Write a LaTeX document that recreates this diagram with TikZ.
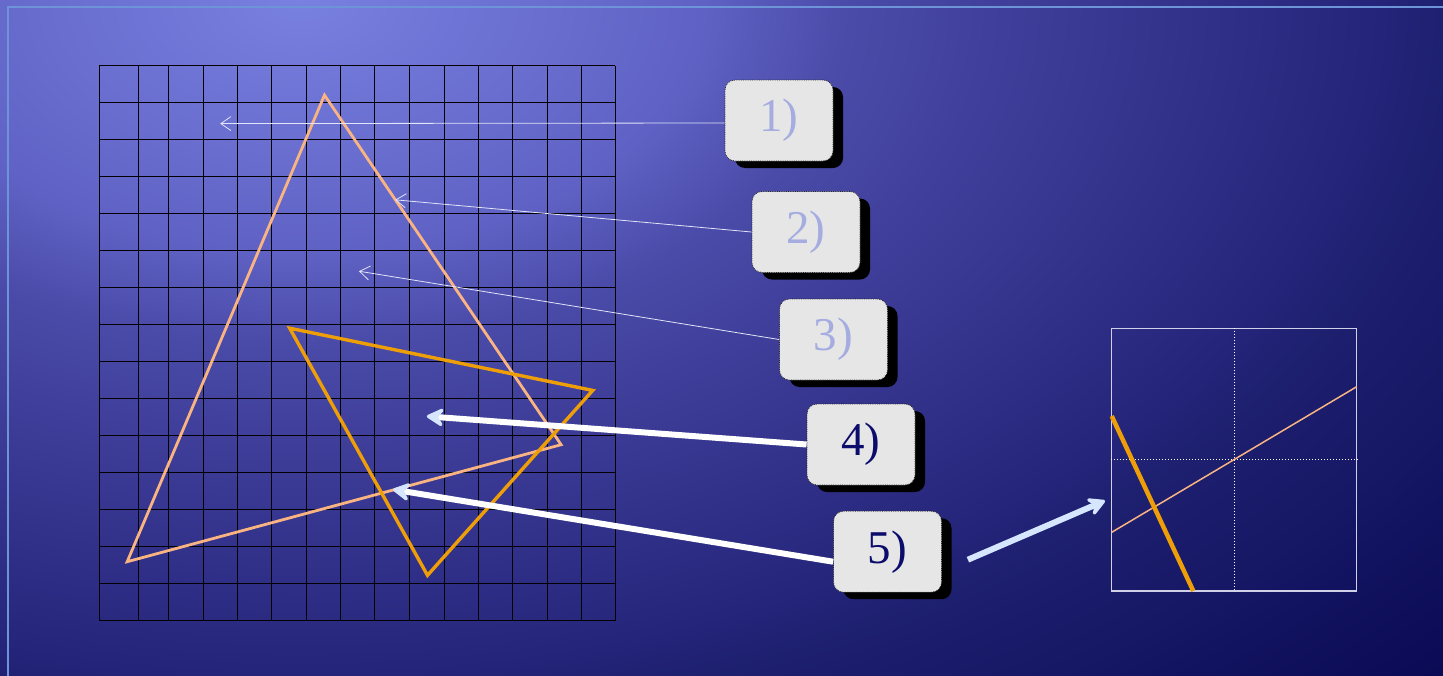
\documentclass[tikz,border=0pt]{standalone}
\usepackage{fontspec}
\setmainfont{Liberation Serif}
\usetikzlibrary{arrows.meta,shadows}
\definecolor{bgA}{HTML}{7880E0}
\definecolor{bgB}{HTML}{5F62C4}
\definecolor{bgC}{HTML}{4A4AA8}
\definecolor{bgD}{HTML}{24247A}
\definecolor{bgE}{HTML}{1E2070}
\definecolor{bgF}{HTML}{0A0A55}
\definecolor{framec}{HTML}{6E94D8}
\definecolor{peach}{HTML}{FAB482}
\definecolor{orng}{HTML}{EE9E06}
\definecolor{boxfill}{HTML}{E6E6E6}
\definecolor{lighttxt}{HTML}{A4ACE0}
\definecolor{darktxt}{HTML}{0C0C6C}
\definecolor{thinarr}{HTML}{E2E4F8}
\definecolor{headblue}{HTML}{D6E6FF}
\definecolor{panelc}{HTML}{D0D0E8}
\pgfdeclareradialshading{bgshade}{\pgfpoint{0bp}{0bp}}{color(0bp)=(bgA); color(6.3bp)=(bgB); color(8.6bp)=(bgC); color(16.9bp)=(bgD); color(17.85bp)=(bgE); color(24.5bp)=(bgF); color(25bp)=(bgF); color(50bp)=(bgF)}
\tikzset{
  numbox/.style={draw=black!85, line width=0.8pt, densely dotted, fill=boxfill,
    rounded corners=10pt, minimum width=108pt, minimum height=81pt, inner sep=0pt,
    font=\fontsize{47}{50}\selectfont,
    drop shadow={shadow xshift=10pt, shadow yshift=-7pt, fill=black, opacity=1}},
  thinarrow/.style={draw=thinarr, line width=0.8pt, -{Straight Barb[length=10pt,width=14pt,line width=0.8pt]}},
  thickarrow/.style={draw=white, line width=6pt, -{Stealth[length=22pt,width=24pt,inset=9pt,round,color=headblue]}},
  gridline/.style={draw=black, line width=1pt},
}
\begin{document}
\begin{tikzpicture}[x=1pt,y=-1pt]
\useasboundingbox (0,0) rectangle (1443,675);
\begin{scope}
  \clip (0,0) rectangle (1443,675);
  \shade[shading=bgshade] (300,0) ellipse [x radius=1600, y radius=1000];
\end{scope}
\draw[framec, line width=1.8pt] (8,676) -- (8,7) -- (1444,7);
% grid
\foreach \x in {99.3,138.2,168.5,203.3,237.4,271.8,306.3,340.3,374.8,409.2,444,478.4,512.5,547.3,581.4,615.1}
  \draw[gridline] (\x,65.5) -- (\x,620.5);
\foreach \k in {0,...,15}
  \draw[gridline] (99.3,65.5+37*\k) -- (615.1,65.5+37*\k);
% triangles
\draw[peach, line width=2.8pt, line join=miter] (324.5,95.1) -- (127.2,561.7) -- (561.1,444.7) -- cycle;
\draw[orng, line width=3.4pt, line join=miter] (289.7,328.2) -- (592.7,390.4) -- (427.5,575.3) -- cycle;
% boxes
\node[numbox, text=lighttxt] (b1) at (779,120.5) {1)};
\node[numbox, text=lighttxt] (b2) at (806,232) {2)};
\node[numbox, text=lighttxt] (b3) at (833.5,339.5) {3)};
\node[numbox, text=darktxt] (b4) at (861,444.5) {4)};
\node[numbox, text=darktxt] (b5) at (887.5,551.7) {5)};
% targets
\coordinate (t1) at (220.2,123.6);
\coordinate (t2) at (395.1,199.8);
\coordinate (t3) at (358.9,271.2);
\coordinate (t4) at (426.8,416.3);
\coordinate (t5) at (393,489.5);
\draw[thinarrow] ([yshift=-2.5pt]b1.west) -- (t1);
\draw[thinarrow] (b2.west) -- (t2);
\draw[thinarrow] (b3.west) -- (t3);
\draw[thickarrow] (b4.west) -- (t4);
\draw[thickarrow] ([yshift=-10pt]b5.west) -- (t5);
% right panel
\node[draw=panelc, line width=1.2pt, minimum width=245pt, minimum height=262.7pt, inner sep=0pt] (panel) at (1234.2,459.65) {};
\draw[white, line width=1pt, dotted] (panel.north) -- (panel.south);
\draw[white, line width=1pt, dotted] (panel.west) -- (panel.east);
\draw[peach, line width=1.5pt] (1111.7,532.3) -- (1356.7,386.7);
\draw[orng, line width=4.5pt] (1111.7,416) -- (1193.3,591);
\coordinate (pa) at ([xshift=26pt,yshift=-8pt]b5.east);
\coordinate (pt) at (1105,500.7);
\draw[draw=headblue, line width=6pt, -{Stealth[length=22pt,width=24pt,inset=9pt,round,color=headblue]}] (pa) -- (pt);
\end{tikzpicture}
\end{document}
